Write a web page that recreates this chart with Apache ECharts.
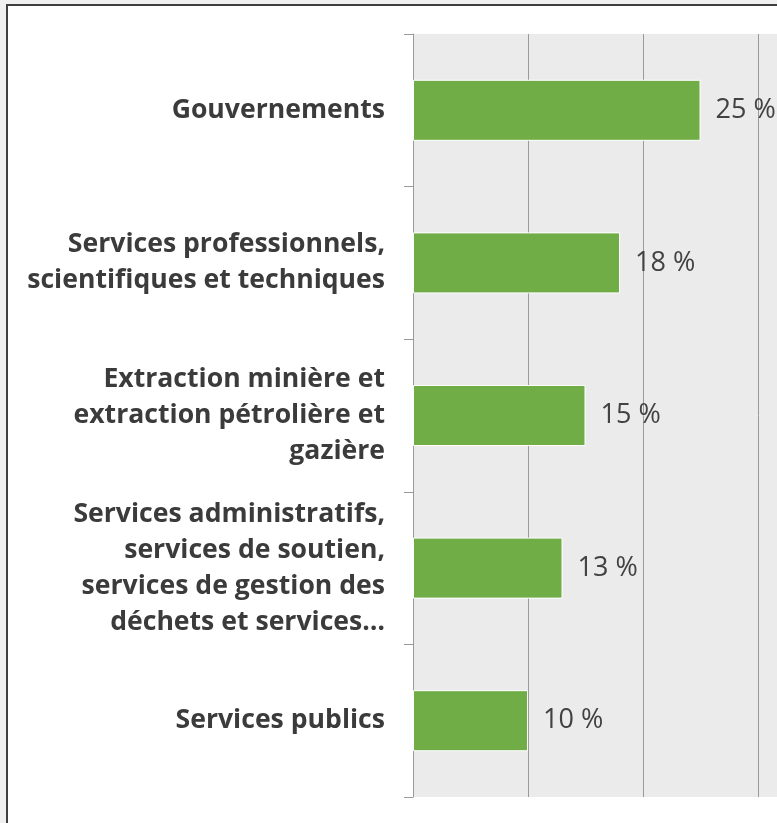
<!DOCTYPE html>
<html>
<head>
<meta charset="utf-8">
<script src="https://cdn.jsdelivr.net/npm/echarts@6/dist/echarts.min.js"></script>
<style>
  html, body { margin: 0; padding: 0; background: #f0f0f0; overflow: hidden; }
  #frame {
    position: absolute; left: 6px; top: 4px; width: 820px; height: 840px;
    border: 2px solid #3f3f3f; background: #ffffff;
  }
  #chart { position: absolute; left: 0; top: 0; width: 777px; height: 823px; }
</style>
</head>
<body>
<div id="frame"></div>
<div id="chart"></div>
<script>
// categories, top to bottom
const categories = [
  "Gouvernements",
  "Services professionnels,\nscientifiques et techniques",
  "Extraction minière et\nextraction pétrolière et\ngazière",
  "Services administratifs,\nservices de soutien,\nservices de gestion des\ndéchets et services…",
  "Services publics",
];
const shares = [25, 18, 15, 13, 10];
// axis is cut by the picture edge just past 30
const axisMax = 31.65;
const axisStep = 10;

const chart = echarts.init(document.getElementById("chart"), null, { renderer: "canvas" });

chart.setOption({
  backgroundColor: "transparent",
  animation: false,
  grid: {
    left: 413,
    top: 34,
    bottom: 26,
    right: 0,
    show: true,
    backgroundColor: "#ebebeb",
    borderWidth: 0,
  },
  xAxis: {
    type: "value",
    min: 0,
    max: axisMax,
    interval: axisStep,
    axisLine: { show: false },
    axisTick: { show: false },
    axisLabel: { show: false },
    splitLine: { showMaxLine: false, lineStyle: { color: "#9a9a9a", width: 1 } },
  },
  yAxis: {
    type: "category",
    inverse: true,
    data: categories,
    axisLine: { show: true, lineStyle: { color: "#9a9a9a", width: 1 } },
    axisTick: { show: true, inside: false, length: 9, lineStyle: { color: "#9a9a9a", width: 1 } },
    axisLabel: {
      margin: 28,
      color: "#3b3b3b",
      fontFamily: "Open Sans",
      fontWeight: "bold",
      fontSize: 26.6,
      lineHeight: 36,
      align: "right",
    },
  },
  series: [
    {
      type: "bar",
      data: shares,
      barWidth: "40%",
      itemStyle: { color: "#70ad47", borderColor: "#ffffff", borderWidth: 1 },
      label: {
        show: true,
        position: "right",
        distance: 15,
        formatter: "{c} %",
        color: "#424242",
        fontFamily: "Open Sans",
        fontSize: 27,
      },
    },
  ],
});
</script>
</body>
</html>
